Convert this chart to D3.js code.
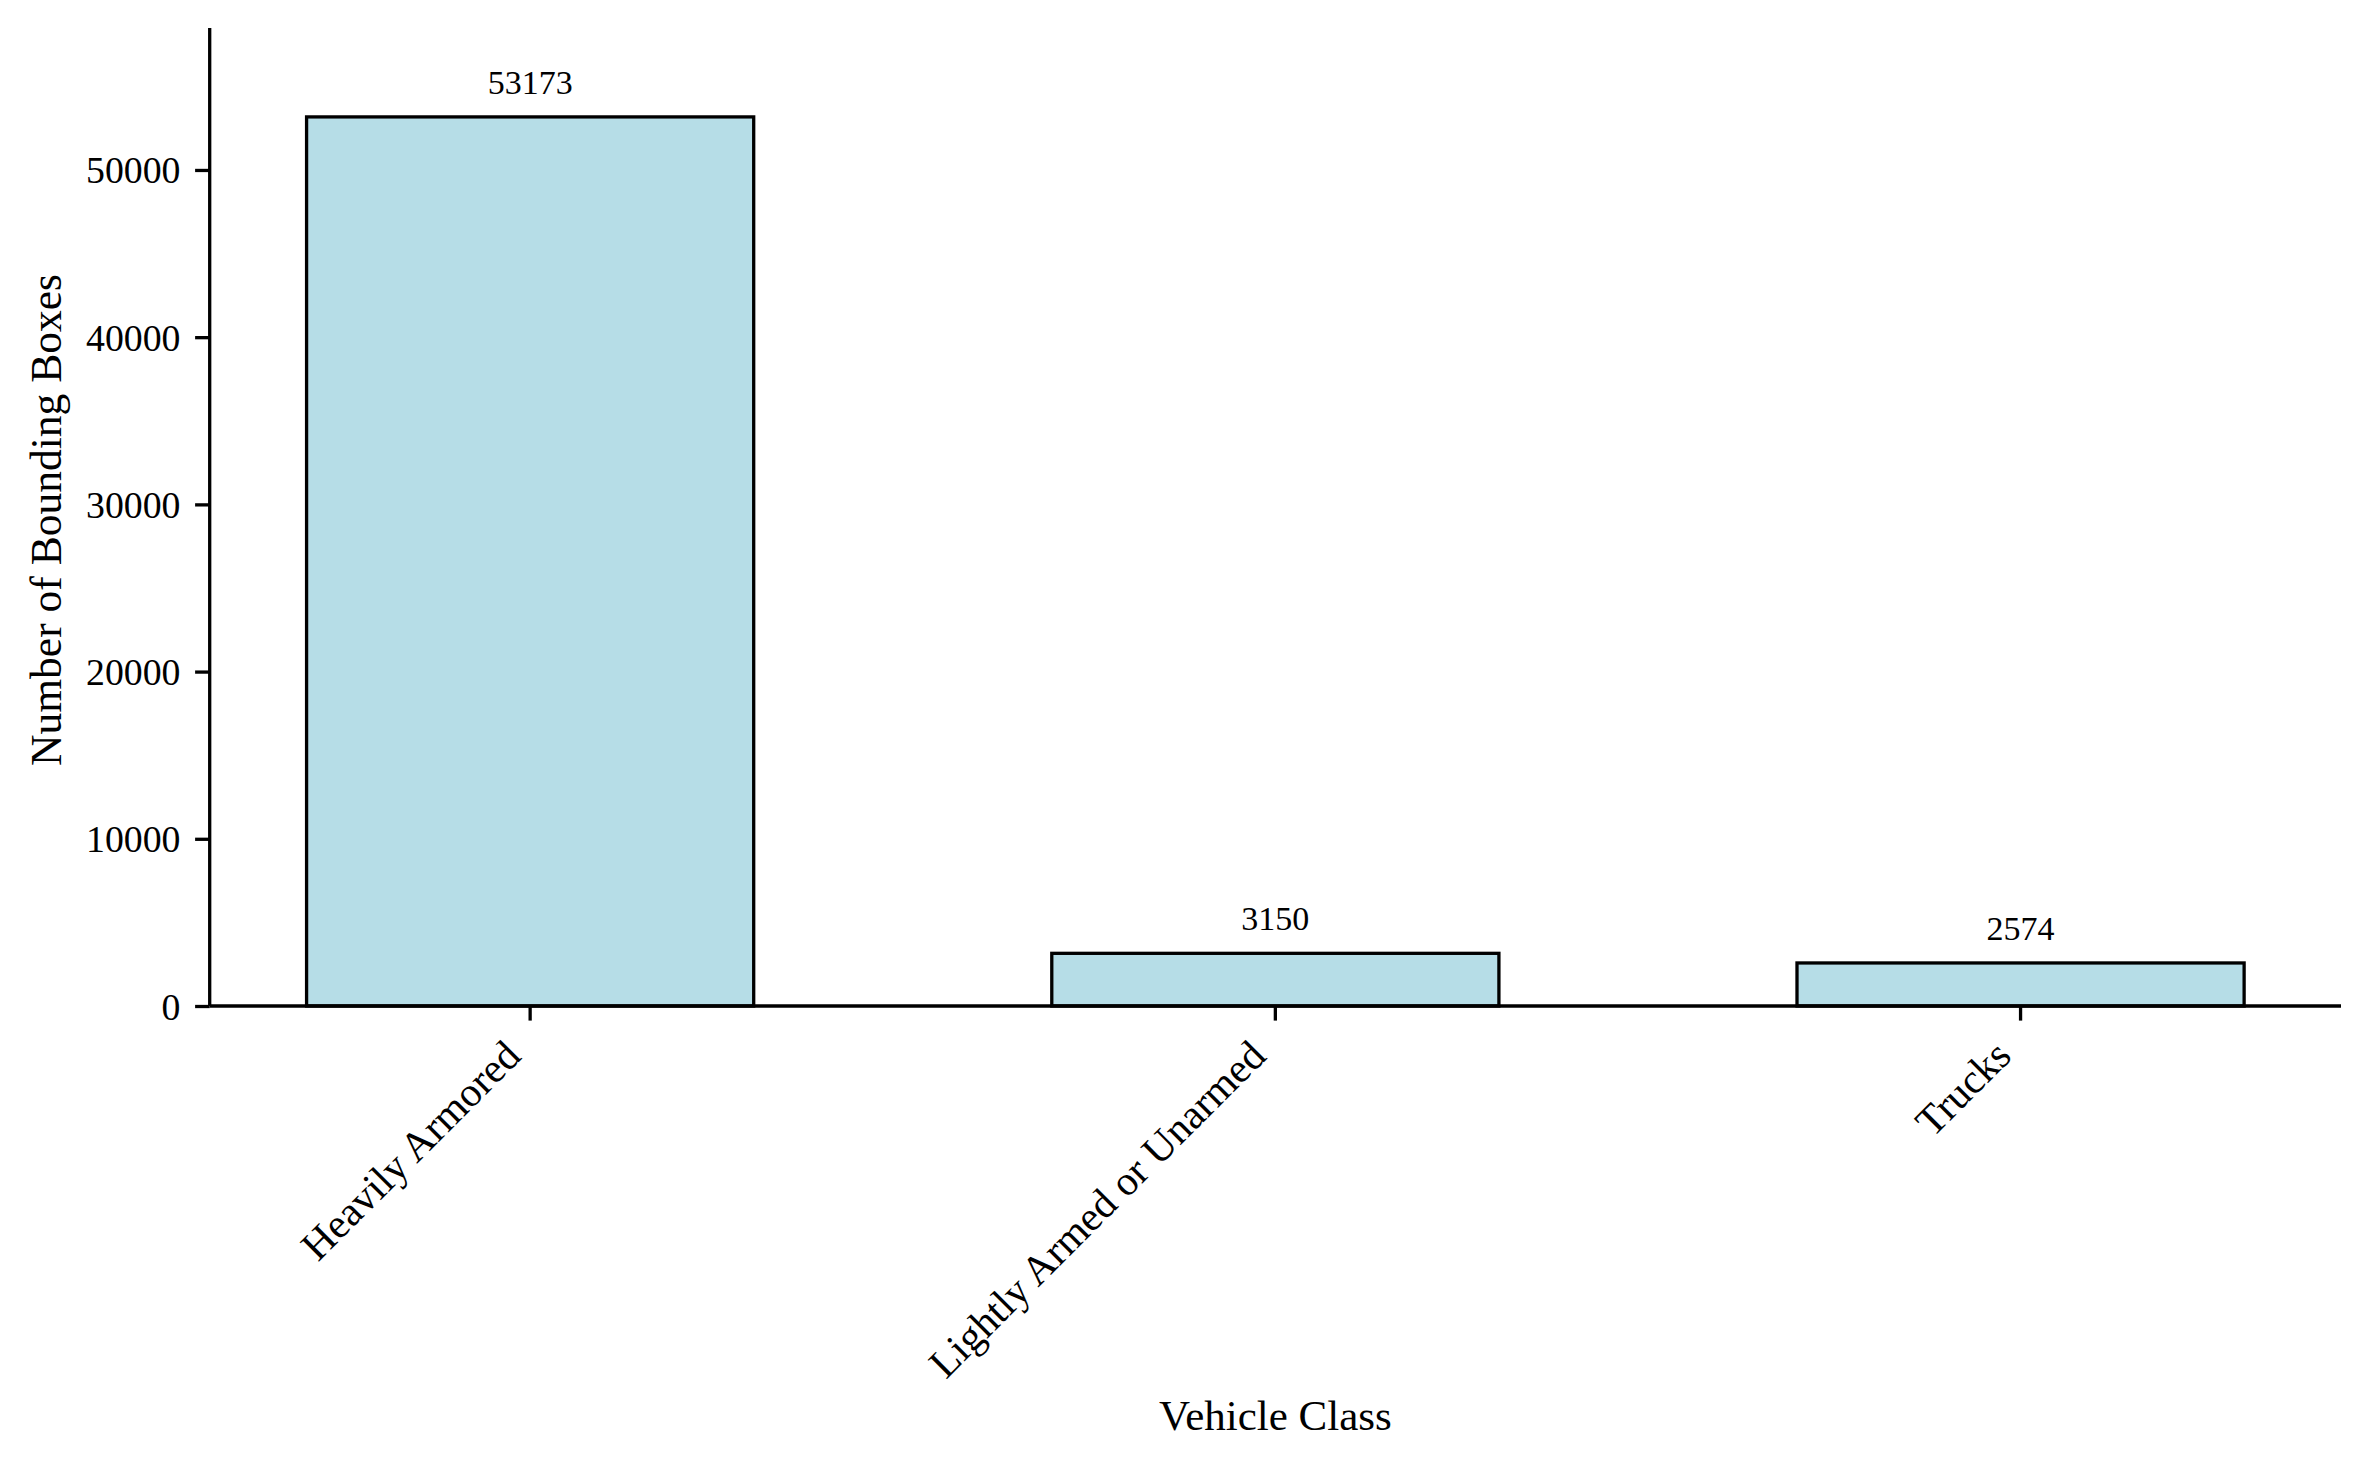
<!DOCTYPE html>
<html>
<head>
<meta charset="utf-8">
<script src="https://cdn.jsdelivr.net/npm/d3@7"></script>
<style>
  html, body { margin: 0; padding: 0; background: #fff; }
  svg { display: block; }
  text { font-family: "Liberation Serif", "DejaVu Serif", serif; fill: #000; }
</style>
</head>
<body>
<svg id="chart" width="2370" height="1469"></svg>
<script>
// ---- data ----
const categories = ["Heavily Armored", "Lightly Armed or Unarmed", "Trucks"];
const counts = [53173, 3150, 2574];
const yTicks = [0, 10000, 20000, 30000, 40000, 50000];
const xAxisTitle = "Vehicle Class";
const yAxisTitle = "Number of Bounding Boxes";

(function () {
// ---- layout ----
const mLeft = 209.7, mRight = 2341, mTop = 28, mBottom = 1006;
const tickLen = 14.6, tickPad = 14.6, lw = 3.3;

const svg = d3.select("#chart");

const x = d3.scaleBand()
  .domain(categories)
  .range([mLeft, mRight])
  .paddingInner(0.4)
  .paddingOuter(0.13);

const y = d3.scaleLinear()
  .domain([0, d3.max(counts) * 1.1])
  .range([mBottom, mTop]);

const rows = categories.map((c, i) => ({c, v: counts[i]}));

// bars
svg.append("g").selectAll("rect")
  .data(rows)
  .join("rect")
  .attr("x", d => x(d.c))
  .attr("y", d => y(d.v))
  .attr("width", x.bandwidth())
  .attr("height", d => y(0) - y(d.v))
  .attr("fill", "#b6dde7")
  .attr("stroke", "#000")
  .attr("stroke-width", lw);

// value labels
svg.append("g").selectAll("text")
  .data(rows)
  .join("text")
  .attr("x", d => x(d.c) + x.bandwidth() / 2)
  .attr("y", d => y(d.v) - 23)
  .attr("text-anchor", "middle")
  .style("font-size", "34px")
  .text(d => d.v);

// y axis
const yAxis = d3.axisLeft(y)
  .tickValues(yTicks)
  .tickFormat(d3.format("d"))
  .tickSize(tickLen)
  .tickSizeOuter(0)
  .tickPadding(tickPad);
const gy = svg.append("g").attr("transform", `translate(${mLeft},0)`).call(yAxis);
gy.select(".domain").attr("stroke-width", lw).attr("d", `M0,${mTop}V${mBottom}`);
gy.selectAll(".tick line").attr("stroke-width", lw);
gy.selectAll(".tick text")
  .attr("dy", null)
  .attr("y", 13)
  .style("font-size", "37.8px")
  .style("font-family", "'Liberation Serif', serif");

// x axis
const xAxis = d3.axisBottom(x)
  .tickSize(tickLen)
  .tickSizeOuter(0)
  .tickPadding(tickPad);
const gx = svg.append("g").attr("transform", `translate(0,${mBottom})`).call(xAxis);
gx.select(".domain").attr("stroke-width", lw).attr("d", `M${mLeft},0H${mRight}`);
gx.selectAll(".tick line").attr("stroke-width", lw);
gx.selectAll(".tick text")
  .attr("y", null)
  .attr("dy", null)
  .attr("text-anchor", "end")
  .attr("transform", "translate(-7.5,52) rotate(-45)")
  .style("font-size", "41.5px")
  .style("font-family", "'Liberation Serif', serif");

// axis titles
svg.append("text")
  .attr("x", (mLeft + mRight) / 2)
  .attr("y", 1430)
  .attr("text-anchor", "middle")
  .style("font-size", "43px")
  .text(xAxisTitle);

svg.append("text")
  .attr("transform", `translate(61,${(mTop + mBottom) / 2 + 3}) rotate(-90)`)
  .attr("text-anchor", "middle")
  .style("font-size", "43.5px")
  .text(yAxisTitle);
})();
</script>
</body>
</html>
